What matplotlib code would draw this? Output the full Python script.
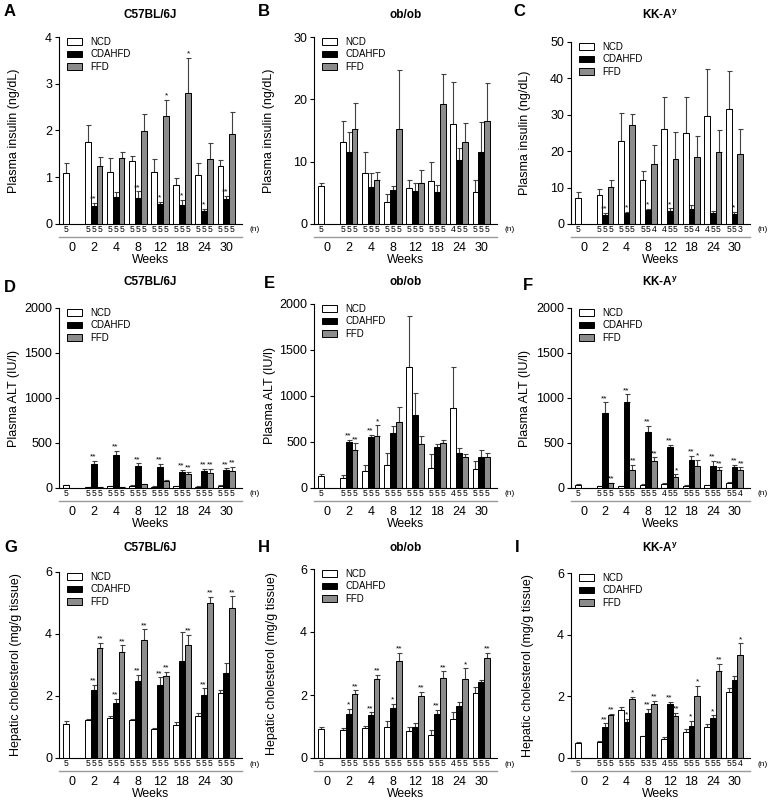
import matplotlib.pyplot as plt
import numpy as np
from matplotlib.transforms import offset_copy, blended_transform_factory

plt.rcParams['font.family'] = ['Liberation Sans', 'DejaVu Sans']
plt.rcParams['mathtext.fontset'] = 'custom'
plt.rcParams['mathtext.rm'] = 'Liberation Sans'
plt.rcParams['mathtext.bf'] = 'Liberation Sans:bold'

nan = np.nan
weeks = ['0', '2', '4', '8', '12', '18', '24', '30']
diets = ['NCD', 'CDAHFD', 'FFD']
bar_colors = ['white', 'black', '#8c8c8c']
n_all5 = ['5', '555', '555', '555', '555', '555', '555', '555']

# A: plasma insulin, C57BL/6J
a_ncd = [1.10, 1.75, 1.12, 1.35, 1.11, 0.83, 1.05, 1.25]
a_ncd_err = [0.20, 0.36, 0.30, 0.11, 0.27, 0.16, 0.26, 0.12]
a_cd = [nan, 0.38, 0.57, 0.55, 0.42, 0.40, 0.28, 0.54]
a_cd_err = [nan, 0.07, 0.12, 0.15, 0.05, 0.11, 0.04, 0.06]
a_ffd = [nan, 1.23, 1.41, 1.99, 2.30, 2.80, 1.38, 1.93]
a_ffd_err = [nan, 0.20, 0.12, 0.37, 0.36, 0.75, 0.35, 0.46]
a_cd_sig = ['', '**', '', '**', '*', '*', '*', '**']
a_ffd_sig = ['', '', '', '', '*', '*', '', '']
a_n = n_all5

# B: plasma insulin, ob/ob
b_ncd = [6.1, 13.2, 8.2, 3.5, 5.7, 6.9, 16.0, 5.1]
b_ncd_err = [0.4, 3.4, 3.3, 1.3, 1.4, 3.0, 6.8, 1.9]
b_cd = [nan, 11.5, 5.9, 5.4, 5.3, 5.2, 10.2, 11.6]
b_cd_err = [nan, 3.2, 2.3, 0.7, 1.2, 1.0, 2.0, 4.8]
b_ffd = [nan, 15.2, 7.1, 15.3, 6.6, 19.2, 13.1, 16.5]
b_ffd_err = [nan, 4.2, 1.3, 9.4, 2.1, 4.9, 3.1, 6.1]
b_cd_sig = [''] * 8
b_ffd_sig = [''] * 8
b_n = ['5', '555', '555', '555', '555', '555', '455', '555']

# C: plasma insulin, KK-Ay
c_ncd = [7.2, 7.9, 22.9, 12.0, 26.2, 24.9, 29.7, 31.6]
c_ncd_err = [1.5, 1.6, 7.6, 2.6, 8.8, 10.1, 12.9, 10.5]
c_cd = [nan, 2.6, 2.9, 3.9, 3.5, 4.1, 3.0, 2.7]
c_cd_err = [nan, 0.4, 0.5, 0.3, 0.8, 1.2, 0.7, 0.6]
c_ffd = [nan, 10.1, 27.2, 16.6, 17.8, 18.4, 19.9, 19.3]
c_ffd_err = [nan, 1.9, 3.0, 5.0, 7.4, 5.8, 5.9, 6.7]
c_cd_sig = ['', '**', '*', '*', '*', '', '', '*']
c_ffd_sig = [''] * 8
c_n = ['5', '555', '555', '554', '455', '554', '455', '553']

# D: plasma ALT, C57BL/6J
d_ncd = [30, 10, 20, 25, 15, 20, 15, 25]
d_ncd_err = [6, 3, 4, 6, 3, 4, 3, 4]
d_cd = [nan, 265, 370, 240, 230, 180, 185, 205]
d_cd_err = [nan, 35, 45, 35, 35, 25, 25, 12]
d_ffd = [nan, 10, 10, 40, 75, 150, 165, 190]
d_ffd_err = [nan, 3, 3, 6, 15, 30, 45, 45]
d_cd_sig = ['', '**', '**', '**', '**', '**', '**', '**']
d_ffd_sig = ['', '', '', '', '', '**', '**', '**']
d_n = n_all5

# E: plasma ALT, ob/ob
e_ncd = [125, 105, 180, 245, 1310, 220, 870, 205]
e_ncd_err = [30, 40, 75, 130, 555, 145, 450, 90]
e_cd = [nan, 500, 550, 595, 790, 450, 380, 340]
e_cd_err = [nan, 25, 30, 80, 240, 25, 50, 75]
e_ffd = [nan, 410, 565, 715, 475, 485, 335, 335]
e_ffd_err = [nan, 75, 115, 165, 90, 40, 35, 40]
e_cd_sig = ['', '**', '**', '', '', '', '', '']
e_ffd_sig = ['', '**', '*', '', '', '', '', '']
e_n = ['5', '555', '555', '555', '555', '555', '455', '555']

# F: plasma ALT, KK-Ay
f_ncd = [30, 20, 20, 35, 40, 25, 30, 60]
f_ncd_err = [15, 4, 4, 5, 10, 4, 5, 5]
f_cd = [nan, 835, 960, 620, 450, 310, 240, 230]
f_cd_err = [nan, 115, 80, 70, 30, 50, 60, 25]
f_ffd = [nan, 50, 195, 300, 120, 240, 195, 200]
f_ffd_err = [nan, 10, 60, 40, 30, 70, 35, 30]
f_cd_sig = ['', '**', '**', '**', '**', '**', '**', '**']
f_ffd_sig = ['', '**', '**', '**', '*', '*', '**', '**']
f_n = ['5', '555', '555', '555', '455', '555', '555', '554']

# G: hepatic cholesterol, C57BL/6J
g_ncd = [1.10, 1.22, 1.30, 1.22, 0.94, 1.08, 1.35, 2.10]
g_ncd_err = [0.08, 0.03, 0.05, 0.03, 0.03, 0.08, 0.10, 0.10]
g_cd = [nan, 2.20, 1.78, 2.48, 2.36, 3.12, 2.04, 2.75]
g_cd_err = [nan, 0.15, 0.12, 0.20, 0.24, 0.96, 0.21, 0.30]
g_ffd = [nan, 3.55, 3.42, 3.82, 2.63, 3.63, 5.00, 4.85]
g_ffd_err = [nan, 0.17, 0.21, 0.33, 0.15, 0.35, 0.20, 0.37]
g_cd_sig = ['', '**', '**', '**', '**', '', '**', '']
g_ffd_sig = ['', '**', '**', '**', '**', '**', '**', '**']
g_n = n_all5

# H: hepatic cholesterol, ob/ob
h_ncd = [0.92, 0.90, 0.96, 1.00, 0.86, 0.72, 1.23, 2.05]
h_ncd_err = [0.05, 0.05, 0.06, 0.18, 0.14, 0.18, 0.23, 0.20]
h_cd = [nan, 1.40, 1.37, 1.58, 1.00, 1.40, 1.65, 2.40]
h_cd_err = [nan, 0.17, 0.08, 0.14, 0.10, 0.13, 0.12, 0.07]
h_ffd = [nan, 2.03, 2.52, 3.08, 1.97, 2.55, 2.50, 3.17]
h_ffd_err = [nan, 0.12, 0.13, 0.25, 0.13, 0.20, 0.35, 0.16]
h_cd_sig = ['', '*', '**', '*', '', '**', '', '']
h_ffd_sig = ['', '**', '**', '**', '**', '**', '*', '**']
h_n = ['5', '555', '555', '555', '555', '555', '455', '555']

# I: hepatic cholesterol, KK-Ay
i_ncd = [0.50, 0.52, 1.55, 0.70, 0.63, 0.85, 1.02, 2.15]
i_ncd_err = [0.02, 0.03, 0.10, 0.02, 0.04, 0.08, 0.08, 0.12]
i_cd = [nan, 1.02, 1.18, 1.47, 1.75, 1.05, 1.30, 2.52]
i_cd_err = [nan, 0.10, 0.09, 0.13, 0.07, 0.15, 0.08, 0.15]
i_ffd = [nan, 1.40, 1.92, 1.75, 1.37, 2.00, 2.83, 3.35]
i_ffd_err = [nan, 0.03, 0.06, 0.10, 0.10, 0.35, 0.22, 0.37]
i_cd_sig = ['', '**', '*', '**', '**', '*', '*', '']
i_ffd_sig = ['', '**', '*', '**', '**', '*', '**', '*']
i_n = ['5', '555', '555', '535', '455', '555', '555', '554']

W, H = 772, 802
fig = plt.figure(figsize=(W / 100, H / 100), dpi=100)

x = np.arange(len(weeks))
width = 0.26
offsets = [-width, 0, width]


def panel(box, letter, letter_xy, title, title_y, ylabel, ylabel_x, ymax, ystep,
          means, errs, cd_sig, ffd_sig, n_list):
    left, top, right, bottom = box
    ax = fig.add_axes([left / W, 1 - bottom / H, (right - left) / W, (bottom - top) / H])
    for k in range(3):
        pos = x + offsets[k]
        ax.bar(pos, means[k], width, color=bar_colors[k], edgecolor='black',
               linewidth=0.7, label=diets[k], zorder=2)
        e = np.array(errs[k], dtype=float)
        ax.errorbar(pos, means[k], yerr=[np.zeros_like(e), e], fmt='none',
                    ecolor='#404040', elinewidth=0.8, capsize=1.8, capthick=0.8, zorder=1)
    # significance marks (CD nudged left, FFD nudged right so pairs don't collide)
    for k, sig, dx in ((1, cd_sig, -0.45), (2, ffd_sig, 0.45)):
        for i, s in enumerate(sig):
            if s:
                ax.annotate(s, (x[i] + offsets[k], means[k][i] + errs[k][i]),
                            xytext=(dx, 0.2), textcoords='offset points',
                            ha='center', va='bottom', fontsize=6)
    # n row under the axis
    trans = blended_transform_factory(ax.transData, ax.transAxes)
    ntrans = offset_copy(trans, fig=fig, y=-6, units='dots')
    for i, s in enumerate(n_list):
        for j, ch in enumerate(s):
            ax.text(x[i] + offsets[j], 0, ch, transform=ntrans, ha='center',
                    va='center', fontsize=6.2)
    ax.text(1, 0, '(n)', transform=offset_copy(ax.transAxes, fig=fig, x=13, y=-6, units='dots'),
            ha='center', va='center', fontsize=6)
    ax.plot([0, 1], [0, 0], transform=offset_copy(ax.transAxes, fig=fig, y=-13, units='dots'),
            color='#999999', lw=1, clip_on=False)

    ax.set_xlim(-0.58, 7.72)
    ax.set_ylim(0, ymax)
    ax.set_xticks(x, weeks)
    ax.set_yticks(np.arange(0, ymax + 1, ystep))
    ax.tick_params(axis='x', length=0, pad=13, labelsize=9)
    ax.tick_params(axis='y', length=3, width=0.8, labelsize=9, pad=2)
    ax.set_xlabel('Weeks', fontsize=8.8, labelpad=0)
    for sp in ['top', 'right']:
        ax.spines[sp].set_visible(False)
    for sp in ['left', 'bottom']:
        ax.spines[sp].set_linewidth(0.8)
    ax.legend(loc='upper left', bbox_to_anchor=(0.045, 1.0), frameon=False, fontsize=7,
              handlelength=1.55, handleheight=0.65, handletextpad=0.85, labelspacing=0.25,
              borderpad=0, borderaxespad=0)

    fig.text(letter_xy[0] / W, 1 - letter_xy[1] / H, letter, fontsize=12,
             fontweight='bold', ha='left', va='center')
    fig.text((left + right) / 2 / W, 1 - title_y / H, title, fontsize=8.5,
             fontweight='bold', ha='center', va='center')
    fig.text(ylabel_x / W, 1 - (top + bottom) / 2 / H, ylabel, rotation=90,
             fontsize=9, ha='center', va='center')
    return ax


kk = r'KK-A$^{\mathregular{y}}$'
ins = 'Plasma insulin (ng/dL)'
alt = 'Plasma ALT (IU/l)'
chol = 'Hepatic cholesterol (mg/g tissue)'

panel((59, 37, 242, 224), 'A', (4, 12), 'C57BL/6J', 15, ins, 14, 4, 1,
      [a_ncd, a_cd, a_ffd], [a_ncd_err, a_cd_err, a_ffd_err], a_cd_sig, a_ffd_sig, a_n)
panel((314, 37, 497, 224), 'B', (258, 12), 'ob/ob', 15, ins, 269, 30, 10,
      [b_ncd, b_cd, b_ffd], [b_ncd_err, b_cd_err, b_ffd_err], b_cd_sig, b_ffd_sig, b_n)
panel((571, 42, 750, 224), 'C', (513, 12), kk, 15, ins, 525, 50, 10,
      [c_ncd, c_cd, c_ffd], [c_ncd_err, c_cd_err, c_ffd_err], c_cd_sig, c_ffd_sig, c_n)
panel((59, 308, 242, 488), 'D', (4, 287), 'C57BL/6J', 282, alt, 14, 2000, 500,
      [d_ncd, d_cd, d_ffd], [d_ncd_err, d_cd_err, d_ffd_err], d_cd_sig, d_ffd_sig, d_n)
panel((314, 304, 497, 488), 'E', (264, 283), 'ob/ob', 282, alt, 270, 2000, 500,
      [e_ncd, e_cd, e_ffd], [e_ncd_err, e_cd_err, e_ffd_err], e_cd_sig, e_ffd_sig, e_n)
panel((571, 308, 750, 488), 'F', (523, 285), kk, 282, alt, 525, 2000, 500,
      [f_ncd, f_cd, f_ffd], [f_ncd_err, f_cd_err, f_ffd_err], f_cd_sig, f_ffd_sig, f_n)
panel((59, 572, 242, 758), 'G', (4, 548), 'C57BL/6J', 548, chol, 16, 6, 2,
      [g_ncd, g_cd, g_ffd], [g_ncd_err, g_cd_err, g_ffd_err], g_cd_sig, g_ffd_sig, g_n)
panel((314, 569, 497, 758), 'H', (258, 548), 'ob/ob', 548, chol, 272, 6, 2,
      [h_ncd, h_cd, h_ffd], [h_ncd_err, h_cd_err, h_ffd_err], h_cd_sig, h_ffd_sig, h_n)
panel((571, 573, 750, 758), 'I', (515, 548), kk, 548, chol, 528, 6, 2,
      [i_ncd, i_cd, i_ffd], [i_ncd_err, i_cd_err, i_ffd_err], i_cd_sig, i_ffd_sig, i_n)

fig.savefig('out.png', dpi=100)
